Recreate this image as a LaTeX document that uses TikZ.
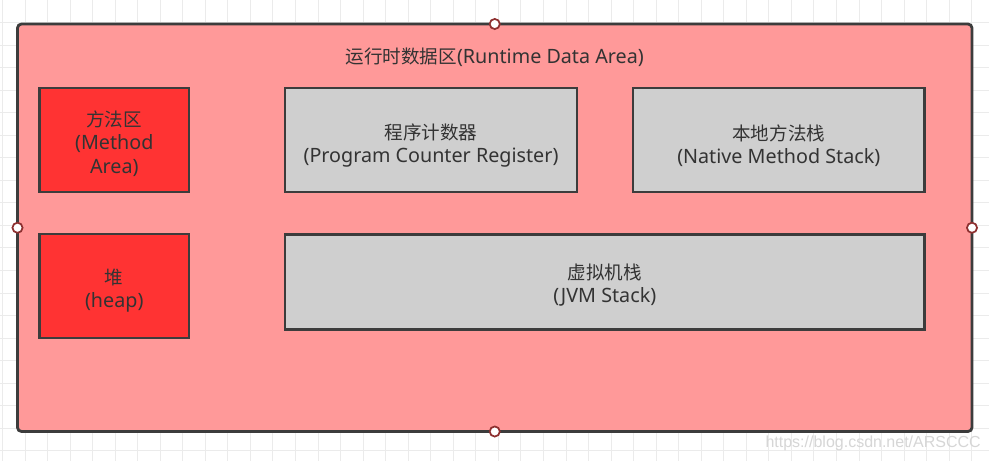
\documentclass[tikz,border=0pt]{standalone}
\usepackage{fontspec}
\setmainfont{Noto Sans}
\newfontfamily\cjk[Scale=0.94]{Noto Sans CJK SC}
\newfontfamily\wmfont{Liberation Sans}
\definecolor{gridc}{HTML}{EBEBEB}
\definecolor{outerfill}{HTML}{FF9999}
\definecolor{redfill}{HTML}{FF3333}
\definecolor{grayfill}{HTML}{CFCFCF}
\definecolor{border}{HTML}{3C3C3C}
\definecolor{txt}{HTML}{333333}
\definecolor{handlec}{HTML}{8E3030}
\definecolor{wmc}{HTML}{D6D6D6}
\tikzset{
  lbl/.style={text=txt, align=center, inner sep=0pt, font=\fontsize{14.8pt}{17.6pt}\selectfont},
  box/.style={draw=border, line width=2.1pt, rectangle, inner sep=0pt},
  redbox/.style={box, fill=redfill, minimum width=112.1pt, minimum height=78pt},
  graybox/.style={box, fill=grayfill},
  outerbox/.style={draw=border, line width=2.1pt, fill=outerfill, rounded corners=3pt, rectangle, inner sep=0pt, minimum width=715.9pt, minimum height=305.6pt},
  handle/.style={circle, draw=handlec, fill=white, line width=1.3pt, minimum size=7.6pt, inner sep=0pt}
}
\begin{document}
\begin{tikzpicture}[x=0.75pt,y=-0.75pt]
\fill[white] (0,0) rectangle (989,461);
\useasboundingbox (0,0) rectangle (989,461);
\foreach \i in {0,...,43} \draw[gridc, line width=0.75pt] ({2.5+22.54*\i},0) -- ({2.5+22.54*\i},461);
\foreach \j in {1,...,20} \draw[gridc, line width=0.75pt] (0,{22.54*\j}) -- (989,{22.54*\j});

\node[outerbox] (outer) at (494.75,227.75) {};
\node[lbl] (title) at (494.75,57.5) {{\cjk 运行时数据区}(Runtime Data Area)};

\node[redbox] (ma) at (114.25,140) {};
\node[redbox] (heap) at (114.25,286) {};
\node[graybox, minimum width=219pt, minimum height=78pt] (pc) at (431,140) {};
\node[graybox, minimum width=218.6pt, minimum height=78pt] (nms) at (778.75,140) {};
\node[graybox, minimum width=479.6pt, minimum height=71.25pt] (jvm) at (604.75,282) {};

\node[lbl] (mat) at ([yshift=-2.5pt]ma.center) {{\cjk 方法区}\\(Method\\Area)};
\node[lbl] (heapt) at ([yshift=-3.3pt]heap.center) {{\cjk 堆}\\(heap)};
\node[lbl] (pct) at ([yshift=-4.3pt]pc.center) {{\cjk 程序计数器}\\(Program Counter Register)};
\node[lbl] (nmst) at ([yshift=-4.3pt]nms.center) {{\cjk 本地方法栈}\\(Native Method Stack)};
\node[lbl] (jvmt) at ([yshift=-2.5pt]jvm.center) {{\cjk 虚拟机栈}\\(JVM Stack)};

\node[handle] (ht) at (494.75,24) {};
\node[handle] (hb) at (494.75,431.5) {};
\node[handle] (hl) at (17.5,227.75) {};
\node[handle] (hr) at (972,227.75) {};

\node[anchor=east, inner sep=0pt, text=wmc, font=\wmfont\fontsize{12pt}{12pt}\selectfont] (wm) at (981,443) {https://blog.csdn.net/ARSCCC};
\end{tikzpicture}
\end{document}
